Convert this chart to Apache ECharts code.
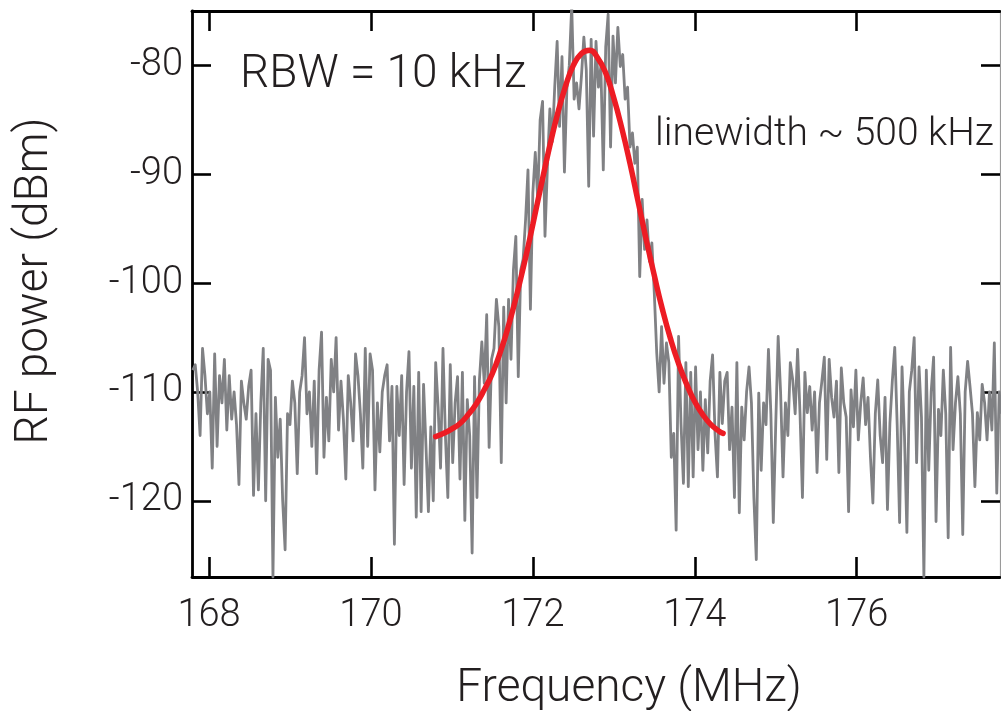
<!DOCTYPE html>
<html>
<head>
<meta charset="utf-8">
<script src="https://cdn.jsdelivr.net/npm/echarts@6/dist/echarts.min.js"></script>
<style>
html,body{margin:0;padding:0;background:#fff;}
#chart{width:1001px;height:711px;}
</style>
</head>
<body>
<div id="chart"></div>
<script>
// Measured spectrum: uniform frequency grid
const freqStart = 167.8;   // MHz
const freqStep = 0.03;     // MHz
const power = [
-108,-107.5,-110,-114,-106,-108.5,-112,-110,-117,-106.5,
-115,-108.5,-111,-107,-113.5,-108.5,-112.5,-110,-113,-118.5,
-109,-111,-112.5,-109.5,-108,-119.5,-112,-119,-111,-106,
-120,-107,-108,-127,-110.5,-116,-112.5,-120,-124.5,-112,
-113,-109,-111,-117.5,-110,-108.5,-105,-112,-110,-115,
-109,-117.5,-108,-104.5,-116,-110.5,-114.5,-107,-110,-105,
-113.5,-109,-112.5,-118,-108.5,-111,-114.5,-106.5,-108.5,-112,
-117,-106,-115,-106.5,-108,-119,-111,-115.5,-110,-108.5,
-107.5,-114.5,-109.5,-124,-109.5,-114,-108.5,-118.5,-110,-106.3,
-117,-109.5,-121.5,-108.2,-121,-109.3,-115,-121,-113.2,-120,
-107.3,-111.4,-117,-106,-114,-119.7,-107.5,-116.5,-111,-108.6,
-118,-108.2,-121.8,-110.7,-114,-124.8,-108.6,-119.7,-108.9,-105.4,
-109.2,-102.9,-115.1,-107,-106,-101.5,-104,-116.5,-102.2,-111,
-101.5,-107,-98.8,-95.7,-108.6,-98.8,-97.8,-94.2,-89.6,-102.4,
-91.7,-88,-92.3,-85,-83.3,-95.7,-89.3,-84,-87,-82,
-77.8,-85.6,-79.2,-89.8,-82.2,-80,-74.5,-83.1,-81.6,-84,
-81,-77.4,-80.4,-91.1,-77.6,-86.5,-77.8,-82,-80.1,-89.6,
-78.3,-75.3,-87.5,-77.3,-81.6,-76.5,-80.1,-79,-83.1,-82,
-87.5,-86.2,-89,-87.5,-99.4,-92.3,-96.9,-94.2,-98,-96.3,
-100.9,-106.4,-110,-104,-109.2,-105.5,-107.3,-116,-113.8,-122.7,
-104.9,-112.9,-118.4,-107.3,-118.7,-108.2,-117.8,-107.7,-115.3,-110,
-117.2,-110.7,-115.6,-109,-106.6,-113.8,-117.8,-108.2,-112.9,-109,
-108.2,-115.3,-111.4,-119.7,-107.3,-121.1,-111.4,-114.4,-110,-107.7,
-111,-119.7,-125.4,-110.1,-117.2,-111,-113,-106.1,-112,-122,
-113,-104.9,-110,-117.8,-111,-114,-107.3,-108.9,-112,-106.1,
-112,-119.7,-108.2,-111.9,-109.5,-113.5,-110,-117.4,-111,-109,
-106.8,-116.2,-107,-110.5,-112.3,-109,-117.4,-107.8,-111,-112.3,
-121,-109.8,-113.2,-108,-114.4,-111,-108.7,-113,-110.5,-116,
-120.2,-112,-108.9,-114,-116.5,-110.5,-120.8,-112.9,-109,-105.9,
-113,-122,-107.7,-114,-122.9,-110,-108,-105,-116.5,-107.7,
-112.3,-127,-108,-117.2,-110,-106.8,-121.9,-111.6,-114,-108,
-112,-123.4,-105.9,-115.3,-111,-108.6,-112,-123.1,-110,-107.2,
-109.5,-112,-118.7,-111.9,-114.4,-109.3,-111,-114.4,-110,-113.5,
-105.5,-119.3,-110,-112
];

// Gaussian fit curve
const fitFreq = [170.8,170.9,171.0,171.1,171.2,171.3,171.4,171.5,171.6,171.7,171.8,171.9,
172.0,172.1,172.2,172.3,172.4,172.5,172.6,172.7,172.8,172.9,173.0,173.1,173.2,173.3,173.4,
173.5,173.6,173.7,173.8,173.9,174.0,174.1,174.2,174.3,174.35];
const fitPower = [-114.1,-113.8,-113.4,-112.9,-112.1,-111.1,-109.8,-108.3,-106.3,-103.9,-101.1,-98.0,
-94.6,-91.1,-87.7,-84.6,-82.0,-80.0,-78.9,-78.6,-79.3,-80.7,-83.0,-85.8,-89.0,-92.5,-96.0,
-99.3,-102.4,-105.1,-107.4,-109.3,-110.9,-112.1,-113.0,-113.6,-113.8];

const xTicks = [168,170,172,174,176];
const yTicks = [-120,-110,-100,-90,-80];
const xMin = 167.79, xMax = 177.77;
const yMin = -127, yMax = -75;

const spectrum = power.map((v,i)=>[freqStart + i*freqStep, v]);
const fit = fitFreq.map((f,i)=>[f, fitPower[i]]);

const FONT = 'Roboto, "Liberation Sans", sans-serif';
const TXT = '#231f20';

const chart = echarts.init(document.getElementById('chart'), null, {renderer:'canvas'});

function xAx(pos, showLabel){
  return {
    type:'value', position:pos, min:xMin, max:xMax,
    axisLine:{show:true, onZero:false, lineStyle:{color:'#000', width:2.8}},
    axisTick:{show:true, inside:true, length:20, customValues:xTicks, lineStyle:{color:'#000', width:2.6}},
    axisLabel:{show:showLabel, customValues:xTicks, fontSize:38, fontWeight:300, fontFamily:FONT, color:TXT, margin:20},
    splitLine:{show:false}
  };
}
function yAx(pos, showLabel, lineColor, lineWidth){
  return {
    type:'value', position:pos, min:yMin, max:yMax,
    axisLine:{show:true, onZero:false, lineStyle:{color:lineColor, width:lineWidth}},
    axisTick:{show:true, inside:true, length:19, customValues:yTicks, lineStyle:{color:'#000', width:2.6}},
    axisLabel:{show:showLabel, customValues:yTicks, fontSize:38, fontWeight:300, fontFamily:FONT, color:TXT, margin:9},
    splitLine:{show:false}
  };
}

chart.setOption({
  animation:false,
  backgroundColor:'#fff',
  grid:{left:192, right:1, top:11, bottom:134, containLabel:false},
  xAxis:[xAx('bottom', true), xAx('top', false)],
  yAxis:[yAx('left', true, '#000', 2.8), yAx('right', false, '#9a9a9a', 1.2)],
  series:[
    {type:'line', data:spectrum, showSymbol:false, symbol:'none', clip:true,
     lineStyle:{color:'#808184', width:2.8, join:'round'}, z:2},
    {type:'line', data:fit, showSymbol:false, symbol:'none', smooth:true, clip:true,
     lineStyle:{color:'#ed1c24', width:5.5, cap:'round'}, z:3}
  ],
  graphic:[
    {type:'text', x:240, y:75, style:{text:'RBW = 10 kHz', font:'300 46px '+FONT, fill:TXT, align:'left', verticalAlign:'middle'}},
    {type:'text', x:655, y:135, style:{text:'linewidth ~ 500 kHz', font:'300 39px '+FONT, fill:TXT, align:'left', verticalAlign:'middle'}},
    {type:'text', x:629, y:689, style:{text:'Frequency (MHz)', font:'300 46px '+FONT, fill:TXT, align:'center', verticalAlign:'middle'}},
    {type:'text', x:35, y:281, rotation:Math.PI/2, style:{text:'RF power (dBm)', font:'300 46px '+FONT, fill:TXT, align:'center', verticalAlign:'middle'}}
  ]
});
</script>
</body>
</html>
